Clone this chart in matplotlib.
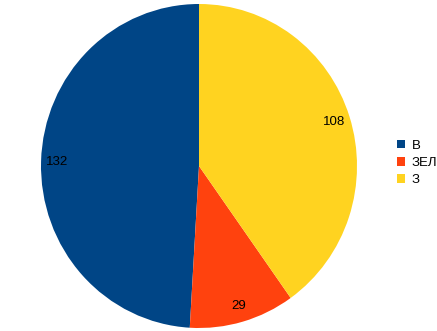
import matplotlib.pyplot as plt
from matplotlib.patches import Patch

plt.rcParams['font.family'] = ['Liberation Sans', 'DejaVu Sans']

categories = ["В", "ЗЕЛ", "З"]
values = [132, 29, 108]
colors = ["#004586", "#ff420e", "#ffd320"]

W, H = 437, 331
fig = plt.figure(figsize=(W / 100, H / 100), dpi=100)

# pie ~ center (199,166), spans x 41..357, y 4..328
cx, cy = 199, 166
rx, ry = 158, 162
ax = fig.add_axes([(cx - rx) / W, (H - cy - ry) / H, 2 * rx / W, 2 * ry / H])
ax.pie(values, colors=colors, startangle=90, counterclock=True,
       labels=[str(v) for v in values], labeldistance=0.9, radius=1.0,
       textprops=dict(fontsize=9.5, ha="center", va="center", color="black"))
ax.set_aspect("auto")
ax.set_xlim(-1, 1)
ax.set_ylim(-1, 1)

handles = [Patch(facecolor=c, edgecolor="none", label=l) for c, l in zip(colors, categories)]
fig.legend(handles=handles, loc="center left", bbox_to_anchor=(397 / W, 1 - 163 / H),
           frameon=False, fontsize=9.5, handlelength=0.6, handleheight=0.6,
           handletextpad=0.5, labelspacing=0.4, borderpad=0, borderaxespad=0)

fig.savefig("out.png", dpi=100)
